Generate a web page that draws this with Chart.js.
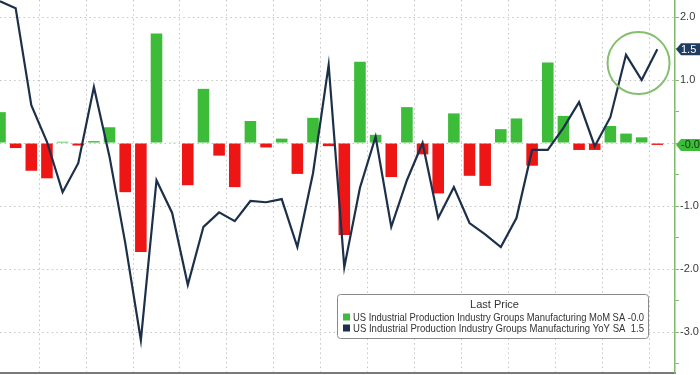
<!DOCTYPE html>
<html>
<head>
<meta charset="utf-8">
<script src="https://cdn.jsdelivr.net/npm/chart.js@4.4.1/dist/chart.umd.min.js"></script>
<style>
    body { margin: 0; background: #fff; }
    #wrap { position: relative; width: 700px; height: 375px; }
</style>
</head>
<body>
<div id="wrap"><canvas id="ipChart"></canvas></div>
<script>
// Monthly values, oldest first (one per month)
const momValues = [0.49, -0.08, -0.44, -0.56, 0.02, -0.04, 0.03, 0.25, -0.78, -1.73, 1.74, 0.01, -0.67, 0.86, -0.20,
    -0.70, 0.35, -0.07, 0.07, -0.49, 0.40, -0.05, -1.46, 1.29, 0.13, -0.54, 0.57, -0.18, -0.80, 0.47,
    -0.52, -0.68, 0.22, 0.39, -0.36, 1.28, 0.43, -0.11, -0.11, 0.27, 0.15, 0.09, -0.03];
const yoyValues = [2.25, 2.14, 0.60, 0.02, -0.78, -0.32, 0.89, -0.22, -1.58, -3.13, -0.59, -1.11, -2.25, -1.33, -1.10,
    -1.24, -0.92, -0.94, -0.89, -1.65, -0.48, 1.24, -1.97, -0.71, 0.10, -1.33, -0.59, 0.00, -1.19, -0.70,
    -1.27, -1.45, -1.65, -1.19, -0.11, -0.11, 0.24, 0.65, -0.05, 0.41, 1.40, 1.00, 1.49];
const yTicks = [-3.5, -3.0, -2.5, -2.0, -1.5, -1.0, -0.5, 0, 0.5, 1.0, 1.5, 2.0];
const seriesNames = [
    'US Industrial Production Industry Groups Manufacturing MoM SA',
    'US Industrial Production Industry Groups Manufacturing YoY SA'
];
const legendTitle = 'Last Price';
// highlight circle around the latest YoY readings (data coords)
const circleSpot = { x: 40.8, y: 1.27 };

const GREEN = '#3cbc38';
const RED = '#ee1515';
const NAVY = '#1d3049';
const AXIS_GREEN = '#7fb86c';

const lastMom = momValues[momValues.length - 1];
const lastYoy = yoyValues[yoyValues.length - 1];

// Extra drawing: right side price tags, circle, legend box
const overlayPlugin = {
    id: 'overlay',
    afterDraw(chart) {
        const ctx = chart.ctx;
        const xs = chart.scales.x;
        const ys = chart.scales.y;
        const area = chart.chartArea;

        // circle
        ctx.save();
        ctx.strokeStyle = '#84bf6e';
        ctx.lineWidth = 2;
        ctx.beginPath();
        ctx.arc(xs.getPixelForValue(circleSpot.x), ys.getPixelForValue(circleSpot.y), 31, 0, Math.PI * 2);
        ctx.stroke();
        ctx.restore();

        // price tags on the axis
        const tag = (value, fill, textColor) => {
            const y = ys.getPixelForValue(value);
            const x0 = area.right + 1;
            ctx.save();
            ctx.fillStyle = fill;
            ctx.beginPath();
            ctx.moveTo(x0, y);
            ctx.lineTo(x0 + 5, y - 6);
            ctx.lineTo(700, y - 6);
            ctx.lineTo(700, y + 6);
            ctx.lineTo(x0 + 5, y + 6);
            ctx.closePath();
            ctx.fill();
            ctx.fillStyle = textColor;
            ctx.font = '11px "Liberation Sans", Arial, sans-serif';
            ctx.textBaseline = 'middle';
            ctx.textAlign = 'left';
            ctx.fillText(value.toFixed(1), x0 + 5, y + 0.5);
            ctx.restore();
        };
        tag(lastMom, GREEN, '#123312');
        tag(lastYoy, '#1f3d63', '#ffffff');

        // legend box
        const bx = 337, by = 294, bw = 311, bh = 44;
        ctx.save();
        ctx.fillStyle = '#ffffff';
        ctx.strokeStyle = '#8a8a8a';
        ctx.lineWidth = 1;
        ctx.beginPath();
        ctx.roundRect(bx + 0.5, by + 0.5, bw, bh, 3);
        ctx.fill();
        ctx.stroke();
        ctx.fillStyle = '#333';
        ctx.font = '11px "Liberation Sans", Arial, sans-serif';
        ctx.textBaseline = 'middle';
        ctx.textAlign = 'center';
        ctx.fillText(legendTitle, bx + bw / 2 + 2, by + 11);
        ctx.textAlign = 'left';
        const rows = [
            { color: GREEN, text: seriesNames[0] + ' ' + lastMom.toFixed(1).padStart(4) },
            { color: NAVY, text: seriesNames[1] + '  ' + lastYoy.toFixed(1) }
        ];
        rows.forEach((r, i) => {
            const ry = by + 23 + i * 11;
            ctx.fillStyle = r.color;
            ctx.fillRect(bx + 6, ry - 3.5, 7, 7);
            ctx.fillStyle = '#333';
            ctx.fillText(r.text, bx + 16, ry + 0.5, bw - 20);
        });
        ctx.restore();
    }
};

const barPoints = momValues.map((v, i) => ({ x: i, y: v }));
const linePoints = yoyValues.map((v, i) => ({ x: i, y: v }));

new Chart(document.getElementById('ipChart'), {
    type: 'bar',
    data: {
        datasets: [
            {
                type: 'line',
                label: seriesNames[1],
                data: linePoints,
                borderColor: NAVY,
                borderWidth: 2.2,
                pointRadius: 0,
                tension: 0,
                order: 0
            },
            {
                type: 'bar',
                label: seriesNames[0],
                data: barPoints,
                backgroundColor: (c) => (c.raw && c.raw.y < 0 ? RED : GREEN),
                barPercentage: 0.74,
                categoryPercentage: 1,
                order: 1
            }
        ]
    },
    options: {
        responsive: true,
        maintainAspectRatio: false,
        animation: false,
        layout: { padding: 0, autoPadding: false },
        plugins: {
            legend: { display: false },
            tooltip: { enabled: false }
        },
        scales: {
            x: {
                type: 'linear',
                min: 0,
                max: 43.13,
                offset: false,
                afterFit: (axis) => { axis.height = 2; axis.paddingLeft = 0; axis.paddingRight = 0; },
                ticks: { display: false, stepSize: 1 },
                grid: {
                    color: (c) => (c.tick && c.tick.value > 0 && c.tick.value % 3 === 0 ? '#c4c4c4' : 'rgba(0,0,0,0)'),
                    lineWidth: 1,
                    drawTicks: false
                },
                border: { display: true, color: '#7a7a7a', width: 2, dash: [1.5, 3.2] }
            },
            y: {
                position: 'right',
                min: -3.65,
                max: 2.27,
                afterBuildTicks: (axis) => { axis.ticks = yTicks.map(v => ({ value: v })); },
                // fixed width, and no extra room above/below the plot for labels
                afterFit: (axis) => { axis.width = 25; axis.paddingTop = 0; axis.paddingBottom = 0; },
                ticks: {
                    color: '#3a3a3a',
                    padding: 1,
                    font: { family: '"Liberation Sans", Arial, sans-serif', size: 11 },
                    callback: (v) => (Number.isInteger(v) && v !== 0 ? v.toFixed(1) : '')
                },
                grid: {
                    color: (c) => (c.tick && Number.isInteger(c.tick.value) ? '#c4c4c4' : 'rgba(0,0,0,0)'),
                    lineWidth: 1,
                    tickColor: AXIS_GREEN,
                    tickLength: 4
                },
                border: { display: true, color: AXIS_GREEN, width: 1.5, dash: [1.5, 3.2] }
            }
        }
    },
    plugins: [overlayPlugin]
});
</script>
</body>
</html>
